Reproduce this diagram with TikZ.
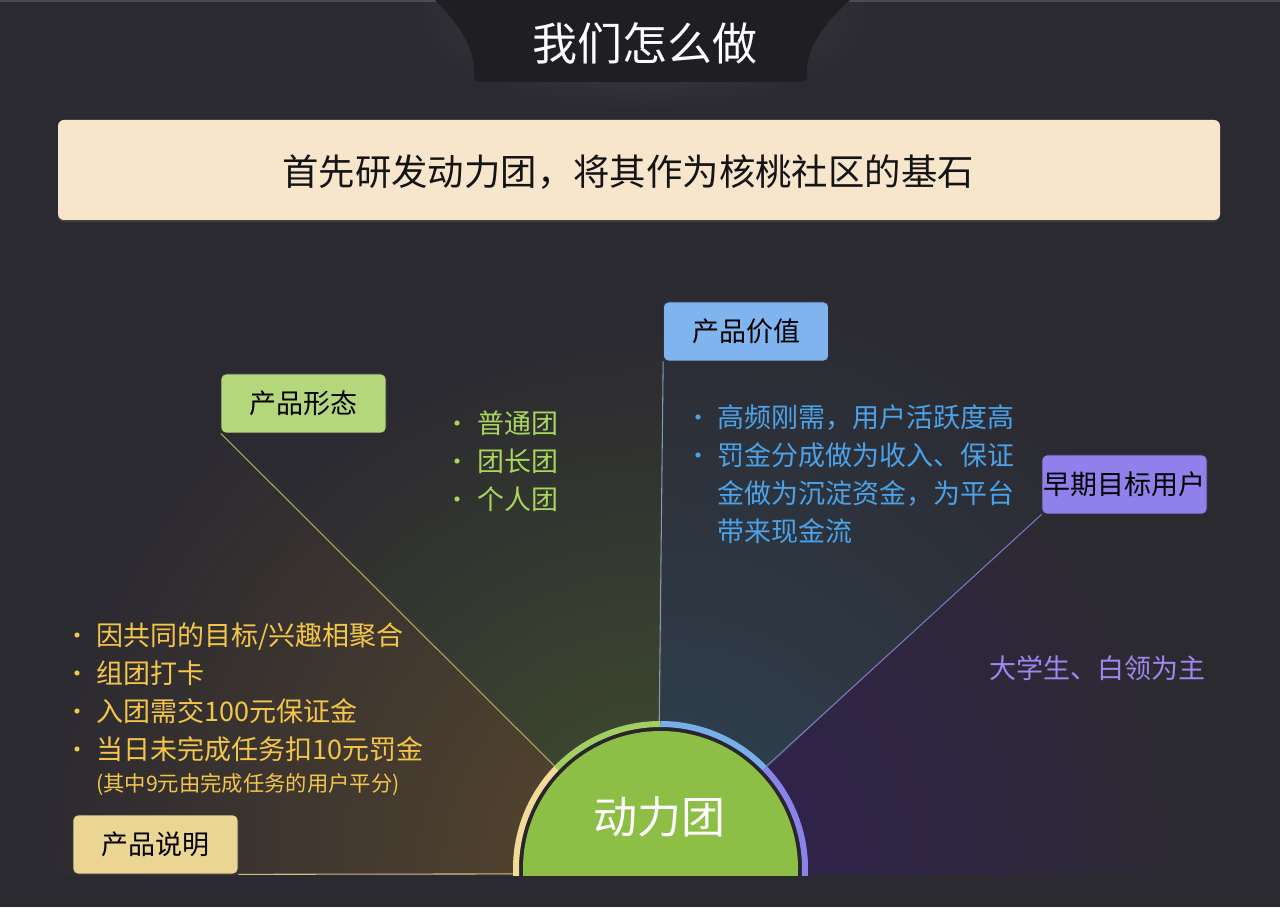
\documentclass[tikz,border=0pt]{standalone}
\usepackage{fontspec}
\setmainfont{Noto Sans CJK SC}
\usetikzlibrary{calc}
\definecolor{bgc}{HTML}{2C2A31}
\definecolor{tabc}{HTML}{1F1E23}
\definecolor{glowc}{HTML}{37353C}
\definecolor{topc}{HTML}{4C4B50}
\definecolor{banc}{HTML}{F7E5CC}
\definecolor{wL}{HTML}{4F412E}
\definecolor{wG}{HTML}{3C462F}
\definecolor{wB}{HTML}{2E3D4A}
\definecolor{wP}{HTML}{30234B}
\definecolor{boxG}{HTML}{B4D77B}
\definecolor{boxB}{HTML}{80B4EE}
\definecolor{boxP}{HTML}{9080EC}
\definecolor{boxY}{HTML}{EBD592}
\definecolor{txG}{HTML}{A6D65B}
\definecolor{txB}{HTML}{4CA2E8}
\definecolor{txY}{HTML}{F3C64A}
\definecolor{txP}{HTML}{9E88F0}
\definecolor{hubg}{HTML}{8DBE46}
\definecolor{gapc}{HTML}{28262C}
\definecolor{ringY}{HTML}{F2DA98}
\definecolor{ringG}{HTML}{A2CF63}
\definecolor{ringB}{HTML}{78AEEA}
\definecolor{ringP}{HTML}{8A84EA}
\definecolor{lnG}{HTML}{9AAE64}
\definecolor{lnB}{HTML}{8098B8}
\definecolor{lnP}{HTML}{7F76C8}
\definecolor{lnY}{HTML}{CDBB8A}
\pgfdeclareradialshading{shL}{\pgfpoint{0bp}{0bp}}{color(0bp)=(wL); color(6bp)=(wL); color(25bp)=(bgc); color(50bp)=(bgc)}
\pgfdeclareradialshading{shG}{\pgfpoint{0bp}{0bp}}{color(0bp)=(wG); color(6bp)=(wG); color(25bp)=(bgc); color(50bp)=(bgc)}
\pgfdeclareradialshading{shB}{\pgfpoint{0bp}{0bp}}{color(0bp)=(wB); color(6bp)=(wB); color(25bp)=(bgc); color(50bp)=(bgc)}
\pgfdeclareradialshading{shP}{\pgfpoint{0bp}{0bp}}{color(0bp)=(wP); color(6bp)=(wP); color(25bp)=(bgc); color(50bp)=(bgc)}
\pgfdeclareradialshading{shGlow}{\pgfpoint{0bp}{0bp}}{color(0bp)=(glowc); color(14bp)=(glowc); color(25bp)=(bgc); color(50bp)=(bgc)}
\begin{document}
\begin{tikzpicture}[x=0.75pt,y=0.75pt,
  box/.style={rounded corners=3.75pt, minimum width=123.75pt, minimum height=44.25pt,
    inner sep=0pt, draw=black!80, line width=0.5pt, text=black,
    font=\fontsize{20.25pt}{24pt}\selectfont},
  lst/.style={anchor=west, inner sep=0pt, text height=17.8pt, text depth=2.4pt,
    font=\fontsize{20.25pt}{24pt}\selectfont},
  conn/.style={line width=0.8pt},
  ringseg/.style={line width=4.5pt}
]
\useasboundingbox (0,0) rectangle (1280,907);
\fill[bgc] (0,0) rectangle (1280,907);
\coordinate (C) at (660.5,38.5);

% wedge glows
\begin{scope}
\clip (C) -- (0,702) -- (0,32) -- (660.5,32) -- cycle;
\shade[shading=shL] (C) circle (620);
\end{scope}
\begin{scope}
\clip (C) -- (0,702) -- (0,907) -- (666.5,907) -- cycle;
\shade[shading=shG] (C) circle (540);
\end{scope}
\begin{scope}
\clip (C) -- (666.5,907) -- (1280,907) -- (1280,619) -- cycle;
\shade[shading=shB] (C) circle (600);
\end{scope}
\begin{scope}
\clip (C) -- (1280,619) -- (1280,32) -- (660.5,32) -- cycle;
\shade[shading=shP] (C) circle (540);
\end{scope}

% title tab
\shade[shading=shGlow] (643,895) ellipse [x radius=235, y radius=100];
\fill[topc] (0,905) rectangle (1280,907);
\fill[tabc, rounded corners=4.5pt] (474,825) rectangle (807,920);
\fill[tabc] (435,907) .. controls (455,887) and (474,862) .. (474,837) -- (807,837)
  .. controls (807,862) and (828,887) .. (850,907) -- cycle;
\node[text=white, inner sep=0pt, font=\fontsize{33.75pt}{40pt}\selectfont] (title) at (645,864) {我们怎么做};

% banner
\fill[black!75, rounded corners=4.5pt] (58,685) rectangle (1220,786);
\fill[banc, rounded corners=4.5pt] (58,687) rectangle (1220,787);
\node[text=black!92, inner sep=0pt, font=\fontsize{27.3pt}{32pt}\selectfont] (ban) at (628,735) {首先研发动力团，将其作为核桃社区的基石};

% boxes
\node[box, fill=boxG] (pf) at (303.5,503.5) {产品形态};
\node[box, fill=boxB] (pv) at (746,575.5) {产品价值};
\node[box, fill=boxP] (pu) at (1124.5,422.5) {早期目标用户};
\node[box, fill=boxY] (ps) at (155.5,62.5) {产品说明};

% ring anchor points
\coordinate (r0) at ($(C)+(182.1:147.5)$);
\coordinate (r1) at ($(C)+(136:147.5)$);
\coordinate (r2) at ($(C)+(90.5:147.5)$);
\coordinate (r3) at ($(C)+(44:147.5)$);

% connectors
\draw[conn, lnY] (ps.south east) -- (r0);
\draw[conn, lnG] (pf.south west) -- (r1);
\draw[conn, lnB] (pv.south west) -- (r2);
\draw[conn, lnP] (pu.south west) -- (r3);

% hub
\begin{scope}
\clip (0,32) rectangle (1280,907);
\fill[gapc] (C) circle (142);
\fill[hubg] (C) circle (137.5);
\draw[ringseg, ringY] ($(C)+(195:144.5)$) arc[start angle=195, end angle=136, radius=144.5];
\draw[ringseg, ringG] ($(C)+(136:144.5)$) arc[start angle=136, end angle=90, radius=144.5];
\draw[ringseg, ringB] ($(C)+(90:144.5)$) arc[start angle=90, end angle=44, radius=144.5];
\draw[ringseg, ringP] ($(C)+(44:144.5)$) arc[start angle=44, end angle=-15, radius=144.5];
\end{scope}
\node[text=white, inner sep=0pt, font=\fontsize{33pt}{40pt}\selectfont] (hub) at (659,90) {动力团};

% green list
\fill[txG] (457,484) circle (2.6);
\fill[txG] (457,446) circle (2.6);
\fill[txG] (457,408) circle (2.6);
\node[lst, text=txG] (g1) at (477,484) {普通团};
\node[lst, text=txG] (g2) at (477,446) {团长团};
\node[lst, text=txG] (g3) at (477,408) {个人团};

% blue list
\fill[txB] (698,490) circle (2.6);
\fill[txB] (698,452) circle (2.6);
\node[lst, text=txB] (b1) at (717,490) {高频刚需，用户活跃度高};
\node[lst, text=txB] (b2) at (717,452) {罚金分成做为收入、保证};
\node[lst, text=txB] (b3) at (717,414) {金做为沉淀资金，为平台};
\node[lst, text=txB] (b4) at (717,376) {带来现金流};

% yellow list
\fill[txY] (77,272) circle (2.6);
\fill[txY] (77,234) circle (2.6);
\fill[txY] (77,196) circle (2.6);
\fill[txY] (77,158) circle (2.6);
\node[lst, text=txY] (y1) at (96,272) {因共同的目标/兴趣相聚合};
\node[lst, text=txY] (y2) at (96,234) {组团打卡};
\node[lst, text=txY] (y3) at (96,196) {入团需交100元保证金};
\node[lst, text=txY] (y4) at (96,158) {当日未完成任务扣10元罚金};
\node[lst, text=txY, text height=14.1pt, text depth=1.9pt, font=\fontsize{16pt}{20pt}\selectfont] (y5) at (96,124) {(其中9元由完成任务的用户平分)};

% purple text
\node[lst, text=txP] (ptx) at (989,239) {大学生、白领为主};
\end{tikzpicture}
\end{document}
